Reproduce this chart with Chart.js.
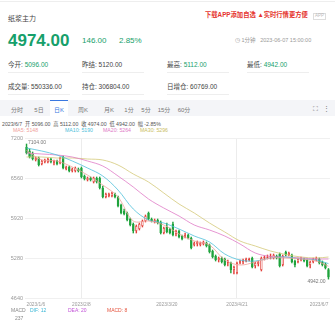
<!DOCTYPE html>
<html lang="zh-CN">
<head>
<meta charset="utf-8">
<script src="https://cdn.jsdelivr.net/npm/chart.js@4.4.0/dist/chart.umd.min.js"></script>
<style>
  html, body { margin: 0; padding: 0; background: #fff; }
  body {
    width: 335px; height: 325px; position: relative; overflow: hidden;
    font-family: "Liberation Sans", Arial, "Noto Sans CJK SC", sans-serif; color: #333;
  }
  .abs { position: absolute; white-space: nowrap; line-height: 1; }
  .cell { position: absolute; white-space: nowrap; line-height: 1; font-size: 6.5px; color: #444;
          width: 62px; padding-bottom: 3px; border-bottom: 0.5px solid #eee; }
  .up { color: #16a06b; }
  .tabs { position: absolute; left: 0; top: 100px; width: 335px; height: 16px; background: #f4f5f8; }
  .tab { position: absolute; top: 5px; font-size: 6px; color: #777; transform: translateX(-50%); }
  .tab.on { color: #3a78e0; }
  .tabmark { position: absolute; left: 50px; top: 0; width: 18px; height: 16px; background: #fff; border-top: 1px solid #3a78e0; box-sizing: border-box; }
  #wrap { position: absolute; left: 0; top: 128px; width: 335px; height: 197px; }
</style>
</head>
<body>
<div class="abs" style="left:0;top:1px;width:335px;border-top:0.5px solid #eee"></div>
<div class="abs" style="left:8px;top:15px;font-size:7px;color:#444">纸浆主力</div>
<div class="abs" style="left:205px;top:12px;font-size:6.3px;color:#e5322d;font-weight:bold">下载APP添加自选 ▲实时行情更方便</div>
<div class="abs" style="left:313px;top:12.5px;font-size:4.5px;color:#bbb;border:0.5px solid #ddd;padding:0.5px 1px">APP</div>

<div class="abs up" style="left:8px;top:32px;font-size:17px;font-weight:bold">4974.00</div>
<div class="abs up" style="left:82px;top:37px;font-size:8px">146.00</div>
<div class="abs up" style="left:119px;top:37px;font-size:8px">2.85%</div>
<div class="abs" style="left:235px;top:37.5px;font-size:5.5px;color:#999">◷ 1分钟 &nbsp;&nbsp;2023-06-07 15:00:00</div>

<div class="cell" style="left:8px;top:62px">今开: <span class="up">5096.00</span></div>
<div class="cell" style="left:82px;top:62px">昨结: 5120.00</div>
<div class="cell" style="left:167px;top:62px">最高: <span class="up">5112.00</span></div>
<div class="cell" style="left:247px;top:62px">最低: <span class="up">4942.00</span></div>
<div class="cell" style="left:8px;top:84px">成交量: 550336.00</div>
<div class="cell" style="left:82px;top:84px">持仓: 306804.00</div>
<div class="cell" style="left:167px;top:84px">日增仓: 60769.00</div>

<div class="tabs">
  <div class="tabmark"></div>
  <div class="tab" style="left:17px">分时</div>
  <div class="tab" style="left:39px">5日</div>
  <div class="tab on" style="left:59px">日K</div>
  <div class="tab" style="left:83px">周K</div>
  <div class="tab" style="left:109px">月K</div>
  <div class="tab" style="left:129px">1分</div>
  <div class="tab" style="left:146px">5分</div>
  <div class="tab" style="left:164px">15分</div>
  <div class="tab" style="left:184px">60分</div>
  <div class="tab" style="left:315px;font-size:7px">⛶</div>
  <div class="tab" style="left:326px;font-size:7px">⋮</div>
</div>

<div class="abs" style="left:2px;top:121.5px;font-size:5.2px;color:#555">2023/6/7 &nbsp;开 5096.00 &nbsp;高 5112.00 &nbsp;收 4974.00 &nbsp;低 4942.00 &nbsp;幅 -2.85%</div>
<div class="abs" style="left:13px;top:128px;font-size:5.2px;color:#f0a19b" id="lg5"></div>
<div class="abs" style="left:65px;top:128px;font-size:5.2px;color:#4fc0da" id="lg10"></div>
<div class="abs" style="left:103px;top:128px;font-size:5.2px;color:#e07bc6" id="lg20"></div>
<div class="abs" style="left:140px;top:128px;font-size:5.2px;color:#c9bd5e" id="lg30"></div>

<div id="wrap"><canvas id="kline" width="335" height="197"></canvas></div>

<div class="abs" style="left:11px;top:307.5px;font-size:5px;color:#888">MACD</div>
<div class="abs" style="left:30px;top:307.5px;font-size:5px;color:#3bb7d6">DIF: 12</div>
<div class="abs" style="left:68px;top:307.5px;font-size:5px;color:#c153d6">DEA: 20</div>
<div class="abs" style="left:107px;top:307.5px;font-size:5px;color:#e5533d">MACD: 8</div>
<div class="abs" style="left:15px;top:315.5px;font-size:5px;color:#888">237</div>

<script>
// 交易日 (2023/1/6 - 2023/6/7)
const tradeDays = [
  ['2023/1', [6, 9, 10, 11, 12, 13, 16, 17, 18, 19, 20, 30, 31]],
  ['2023/2', [1, 2, 3, 6, 7, 8, 9, 10, 13, 14, 15, 16, 17, 20, 21, 22, 23, 24, 27, 28]],
  ['2023/3', [1, 2, 3, 6, 7, 8, 9, 10, 13, 14, 15, 16, 17, 20, 21, 22, 23, 24, 27, 28, 29, 30, 31]],
  ['2023/4', [3, 4, 6, 7, 10, 11, 12, 13, 14, 17, 18, 19, 20, 21, 24, 25, 26, 27, 28]],
  ['2023/5', [4, 5, 8, 9, 10, 11, 12, 15, 16, 17, 18, 19, 22, 23, 24, 25, 26, 29, 30, 31]],
  ['2023/6', [1, 2, 5, 6, 7]]
];
const dates = [];
tradeDays.forEach(([m, days]) => days.forEach(d => dates.push(m + '/' + d)));

const opens = [
  7056, 6992, 6944, 6848, 6880, 6784, 6816, 6816, 6864, 6800,
  6832, 6800, 6896, 6704, 6736, 6672, 6672, 6704, 6720, 6592,
  6528, 6560, 6496, 6560, 6560, 6400, 6256, 6272, 6272, 6304,
  6256, 6128, 6032, 6000, 5904, 5824, 5712, 5744, 5792, 5872,
  6000, 5904, 5856, 5888, 5856, 5680, 5776, 5744, 5824, 5664,
  5712, 5632, 5616, 5648, 5600, 5488, 5504, 5488, 5504, 5520,
  5488, 5392, 5312, 5248, 5280, 5264, 5200, 5200, 5088, 5040,
  5200, 5216, 5232, 5248, 5280, 5152, 5184, 5088, 5280, 5280,
  5296, 5280, 5312, 5344, 5168, 5376, 5328, 5328, 5232, 5216,
  5248, 5264, 5248, 5168, 5216, 5248, 5264, 5216, 5184, 5096
];
const closes = [
  6960, 6896, 6864, 6880, 6768, 6832, 6848, 6864, 6816, 6832,
  6784, 6880, 6720, 6736, 6672, 6704, 6720, 6672, 6576, 6544,
  6560, 6528, 6560, 6496, 6400, 6256, 6304, 6304, 6320, 6256,
  6112, 6000, 5984, 5888, 5808, 5712, 5792, 5824, 5872, 5952,
  5904, 5872, 5888, 5840, 5680, 5760, 5696, 5680, 5648, 5712,
  5616, 5584, 5648, 5600, 5440, 5520, 5536, 5520, 5536, 5472,
  5376, 5296, 5248, 5280, 5216, 5168, 5216, 5088, 5136, 5200,
  5232, 5248, 5264, 5264, 5136, 5200, 5216, 5280, 5296, 5296,
  5312, 5328, 5280, 5152, 5312, 5328, 5360, 5216, 5168, 5264,
  5280, 5232, 5152, 5216, 5264, 5280, 5200, 5168, 5120, 4974
];
const highs = [
  7104, 7024, 6976, 6896, 6896, 6848, 6864, 6880, 6880, 6848,
  6848, 6896, 6912, 6752, 6752, 6720, 6736, 6720, 6736, 6608,
  6576, 6576, 6576, 6576, 6576, 6432, 6320, 6320, 6336, 6320,
  6272, 6144, 6064, 6016, 5920, 5840, 5808, 5840, 5888, 5968,
  6016, 5920, 5904, 5904, 5872, 5776, 5840, 5760, 5856, 5728,
  5728, 5648, 5680, 5664, 5616, 5536, 5552, 5536, 5552, 5536,
  5504, 5408, 5328, 5296, 5296, 5280, 5248, 5216, 5152, 5216,
  5248, 5264, 5280, 5280, 5296, 5216, 5232, 5296, 5312, 5328,
  5344, 5344, 5328, 5360, 5328, 5392, 5376, 5344, 5248, 5280,
  5296, 5280, 5264, 5232, 5280, 5296, 5280, 5232, 5200, 5112
];
const lows = [
  6944, 6880, 6848, 6832, 6752, 6768, 6800, 6800, 6800, 6768,
  6768, 6784, 6704, 6688, 6656, 6656, 6656, 6656, 6560, 6528,
  6512, 6512, 6480, 6480, 6384, 6240, 6240, 6256, 6256, 6240,
  6096, 5984, 5968, 5872, 5792, 5680, 5680, 5728, 5776, 5856,
  5888, 5856, 5840, 5824, 5664, 5664, 5680, 5664, 5632, 5632,
  5600, 5568, 5600, 5584, 5424, 5472, 5472, 5472, 5488, 5456,
  5360, 5280, 5232, 5216, 5200, 5152, 5152, 5040, 5024, 5024,
  5184, 5184, 5216, 5232, 5120, 5120, 5152, 5072, 5248, 5264,
  5264, 5264, 5264, 5136, 5152, 5312, 5312, 5200, 5136, 5200,
  5232, 5216, 5136, 5120, 5200, 5232, 5184, 5152, 5104, 4942
];

// 均线 (每5根K线读一个点)
const maIdx = [0, 5, 10, 15, 20, 25, 30, 35, 40, 45, 50, 55, 60, 65, 70, 75, 80, 85, 90, 95, 99];
const ma5 = [7000, 6848, 6832, 6736, 6608, 6448, 6256, 5872, 5872, 5808, 5664, 5552, 5488, 5248, 5168, 5216, 5280, 5280, 5264, 5232, 5148];
const ma10 = [7040, 6992, 6928, 6832, 6720, 6592, 6368, 6064, 5888, 5840, 5744, 5632, 5536, 5344, 5248, 5232, 5280, 5296, 5264, 5248, 5190];
const ma20 = [6960, 6944, 6928, 6896, 6832, 6752, 6592, 6416, 6224, 6080, 5952, 5808, 5728, 5632, 5504, 5360, 5304, 5296, 5280, 5264, 5264];
const ma30 = [6896, 6896, 6880, 6880, 6864, 6848, 6768, 6624, 6496, 6320, 6144, 6000, 5840, 5696, 5552, 5472, 5392, 5336, 5296, 5280, 5296];

// 坐标轴
const yTicks = [4640, 5280, 5920, 6560, 7200];
const xLabelIdx = [0, 18, 46, 69, 99];
const gridIdx = [18, 69];

const RED = '#e2403a';
const GREEN = '#1fa33c';

document.getElementById('lg5').textContent = 'MA5: ' + ma5[ma5.length - 1];
document.getElementById('lg10').textContent = 'MA10: ' + ma10[ma10.length - 1];
document.getElementById('lg20').textContent = 'MA20: ' + ma20[ma20.length - 1];
document.getElementById('lg30').textContent = 'MA30: ' + ma30[ma30.length - 1];

const isUp = i => closes[i] >= opens[i];
const maLine = (arr, color) => ({
  type: 'line',
  data: maIdx.map((k, j) => ({ x: dates[k], y: arr[j] })),
  borderColor: color,
  borderWidth: 0.8,
  pointRadius: 0,
  tension: 0.35,
  fill: false,
  order: 0
});

// 最高/最低价标注
const extremaLabels = {
  id: 'extremaLabels',
  afterDatasetsDraw(chart) {
    const { ctx, scales: { x, y } } = chart;
    const iMax = highs.indexOf(Math.max(...highs));
    const iMin = lows.indexOf(Math.min(...lows));
    ctx.save();
    ctx.font = '5px "Liberation Sans", Arial';
    ctx.fillStyle = '#777';
    ctx.textBaseline = 'middle';
    ctx.textAlign = 'left';
    ctx.fillText(highs[iMax].toFixed(2), x.getPixelForValue(iMax) + 1.5, y.getPixelForValue(highs[iMax]) - 1);
    ctx.textAlign = 'right';
    ctx.fillText(lows[iMin].toFixed(2), x.getPixelForValue(iMin) - 3, y.getPixelForValue(lows[iMin]) + 2);
    ctx.restore();
  }
};

const ctx = document.getElementById('kline').getContext('2d');
new Chart(ctx, {
  type: 'bar',
  data: {
    labels: dates,
    datasets: [
      maLine(ma5, '#f0a19b'),
      maLine(ma10, '#4fc0da'),
      maLine(ma20, '#e07bc6'),
      maLine(ma30, '#d4c978'),
      {
        // 实体
        data: opens.map((o, i) => [o, closes[i]]),
        backgroundColor: c => isUp(c.dataIndex) ? '#ffffff' : GREEN,
        borderColor: c => isUp(c.dataIndex) ? RED : GREEN,
        borderWidth: c => isUp(c.dataIndex) ? 0.7 : 0,
        borderSkipped: false,
        barPercentage: 0.72,
        categoryPercentage: 1,
        minBarLength: 1,
        grouped: false,
        order: 1
      },
      {
        // 影线
        data: lows.map((l, i) => [l, highs[i]]),
        backgroundColor: c => isUp(c.dataIndex) ? RED : GREEN,
        barThickness: 0.8,
        grouped: false,
        order: 2
      }
    ]
  },
  options: {
    responsive: false,
    animation: false,
    layout: { padding: { top: 10, right: 5, bottom: 0, left: 0 } },
    plugins: { legend: { display: false }, tooltip: { enabled: false } },
    scales: {
      x: {
        afterFit: s => { s.height = 27; },
        grid: {
          offset: false,
          drawTicks: false,
          color: c => gridIdx.includes(c.index) ? '#ececec' : 'rgba(0,0,0,0)'
        },
        border: { display: false },
        ticks: {
          autoSkip: false,
          maxRotation: 0,
          align: 'inner',
          padding: 4,
          color: '#999',
          font: { size: 4.8, family: '"Liberation Sans", Arial' },
          callback: (v, i) => xLabelIdx.includes(i) ? dates[i] : ''
        }
      },
      y: {
        min: yTicks[0],
        max: yTicks[yTicks.length - 1],
        afterFit: s => { s.width = 25; },
        afterBuildTicks: s => { s.ticks = yTicks.map(v => ({ value: v })); },
        grid: { color: '#f0f0f0', drawTicks: false },
        border: { display: false },
        ticks: {
          padding: 2,
          color: '#999',
          font: { size: 5.5, family: '"Liberation Sans", Arial' },
          callback: v => String(v)
        }
      }
    }
  },
  plugins: [extremaLabels]
});
</script>
</body>
</html>
